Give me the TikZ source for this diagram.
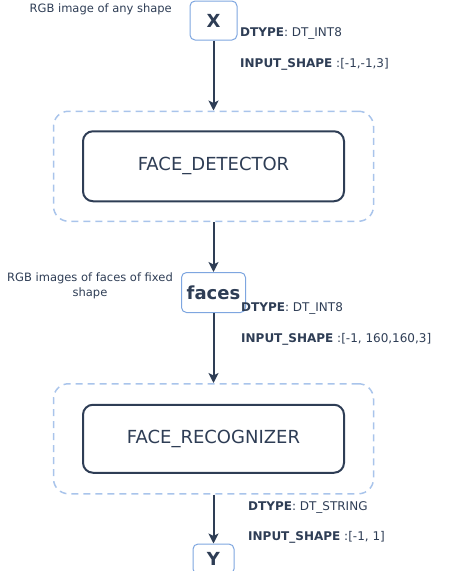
\documentclass[tikz,border=0pt]{standalone}
\usepackage{fontspec}
\setmainfont{DejaVu Sans}
\usepackage{xcolor}
\usepackage{tikz}
\usetikzlibrary{arrows.meta, positioning}
\definecolor{cInk}{HTML}{2E3D55}
\definecolor{cPort}{HTML}{7EA6E0}
\definecolor{cGrp}{HTML}{A9C4EB}
\tikzstyle{port}  = [rectangle, rounded corners=5pt, draw=cPort, line width=1pt, fill=white, text=cInk, font=\fontsize{18}{20}\selectfont\bfseries, inner sep=0pt]
\tikzstyle{grp}   = [rectangle, rounded corners=15pt, draw=cGrp, line width=1.5pt, dash pattern=on 7pt off 5pt, minimum width=320pt, minimum height=110pt]
\tikzstyle{model} = [rectangle, rounded corners=10pt, draw=cInk, line width=2pt, minimum width=261pt, minimum height=70pt, text=cInk, font=\fontsize{18}{20}\selectfont]
\tikzstyle{note}  = [text=cInk, font=\fontsize{11.5}{15}\selectfont, inner sep=0pt]
\tikzstyle{spec}  = [text=cInk, font=\fontsize{12}{15}\selectfont, inner sep=0pt, anchor=west]
\tikzstyle{arrow} = [line width=2pt, draw=cInk, -{Stealth[length=10pt, width=10pt, inset=2.5pt]}]

\begin{document}
\begin{tikzpicture}
\useasboundingbox (0,0) rectangle (454pt,-571pt);
\node (x) [port, minimum width=47pt, minimum height=39pt] at (213.5pt,-20.5pt) {X};
\node (detgrp) [grp, below=70pt of x] {};
\node (detector) [model] at (detgrp) {FACE\_DETECTOR};
\node (faces) [port, minimum width=64pt, minimum height=40pt, below=50pt of detgrp] {faces};
\node (recgrp) [grp, below=70pt of faces] {};
\node (recognizer) [model, minimum height=68pt] at (recgrp) {FACE\_RECOGNIZER};
\node (y) [port, minimum width=41pt, minimum height=30pt, below=49pt of recgrp] {Y};

% notes
\node (xnote) [note, anchor=east] at (172pt,-9pt) {RGB image of any shape};
\node (xtype) [spec] at (240pt,-33pt) {\textbf{DTYPE}: DT\_INT8};
\node (xshape) [spec] at (240pt,-64pt) {\textbf{INPUT\_SHAPE} :[-1,-1,3]};
\node (facesnote) [note, align=center] at (90pt,-285.5pt) {RGB images of faces of fixed\\shape};
\node (facestype) [spec] at (241pt,-308pt) {\textbf{DTYPE}: DT\_INT8};
\node (facesshape) [spec] at (241pt,-339pt) {\textbf{INPUT\_SHAPE} :[-1, 160,160,3]};
\node (ytype) [spec] at (248pt,-507pt) {\textbf{DTYPE}: DT\_STRING};
\node (yshape) [spec] at (248pt,-537pt) {\textbf{INPUT\_SHAPE} :[-1, 1]};

\draw [arrow] (x) -- (detgrp);
\draw [arrow] (detgrp) -- (faces);
\draw [arrow] (faces) -- (recgrp);
\draw [arrow] (recgrp) -- (y);
\end{tikzpicture}
\end{document}
